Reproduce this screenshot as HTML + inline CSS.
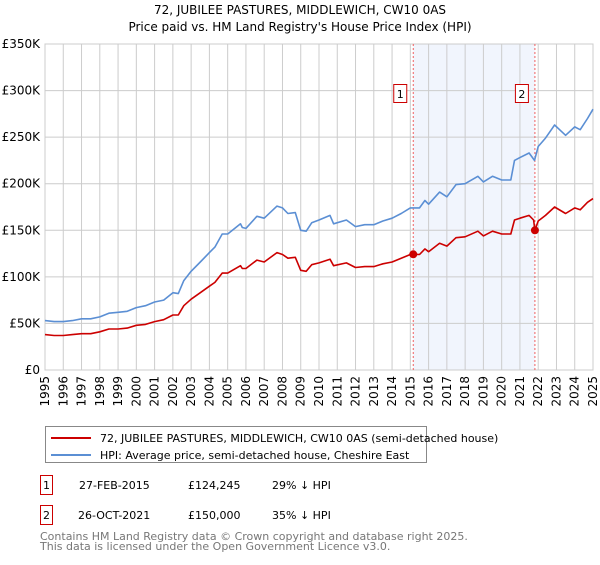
<!DOCTYPE html>
<html><head><meta charset="utf-8"><style>
body{margin:0;background:#fff;font-family:"Liberation Sans","DejaVu Sans",sans-serif;}
svg text{font-family:"DejaVu Sans","Liberation Sans",sans-serif;}
</style></head><body>
<svg id="c" width="600" height="560" xmlns="http://www.w3.org/2000/svg">
<text x="300" y="14" text-anchor="middle" font-size="12">72, JUBILEE PASTURES, MIDDLEWICH, CW10 0AS</text>
<text x="300" y="31" text-anchor="middle" font-size="12">Price paid vs. HM Land Registry's House Price Index (HPI)</text>
<g id="grid"></g><g id="marks"></g>
<g>
<rect x="45.5" y="426.5" width="381" height="36" fill="#fff" stroke="#888"/>
<line x1="51" y1="438" x2="91" y2="438" stroke="#cc0000" stroke-width="2"/>
<text x="100" y="442" font-size="11">72, JUBILEE PASTURES, MIDDLEWICH, CW10 0AS (semi-detached house)</text>
<line x1="51" y1="455" x2="91" y2="455" stroke="#5b8fd4" stroke-width="2"/>
<text x="100" y="459" font-size="11">HPI: Average price, semi-detached house, Cheshire East</text>
</g>
<g font-size="11">
<rect x="40.5" y="475.5" width="12" height="19" fill="none" stroke="#cc0000"/><text x="46.5" y="489" text-anchor="middle">1</text>
<text x="79" y="489">27-FEB-2015</text><text x="188" y="489">£124,245</text><text x="272" y="489">29% ↓ HPI</text>
<rect x="40.5" y="505.5" width="12" height="19" fill="none" stroke="#cc0000"/><text x="46.5" y="519" text-anchor="middle">2</text>
<text x="78" y="519">26-OCT-2021</text><text x="188" y="519">£150,000</text><text x="272" y="519">35% ↓ HPI</text>
</g>
<text x="40" y="540" font-size="11" fill="#777">Contains HM Land Registry data © Crown copyright and database right 2025.</text>
<text x="40" y="550" font-size="11" fill="#777">This data is licensed under the Open Government Licence v3.0.</text>
</svg>
<script>
const yTicks=[0,50000,100000,150000,200000,250000,300000,350000];
const yTickLabels=["£0","£50K","£100K","£150K","£200K","£250K","£300K","£350K"];
const xTicks=[1995,1996,1997,1998,1999,2000,2001,2002,2003,2004,2005,2006,2007,2008,2009,2010,2011,2012,2013,2014,2015,2016,2017,2018,2019,2020,2021,2022,2023,2024,2025];
const hpiYears=[1995,1995.5,1996,1996.5,1997,1997.5,1998,1998.5,1999,1999.5,2000,2000.5,2001,2001.5,2002,2002.3,2002.6,2003,2003.5,2004,2004.3,2004.7,2005,2005.7,2005.8,2006,2006.6,2007,2007.7,2008,2008.3,2008.7,2009,2009.3,2009.6,2010,2010.6,2010.8,2011.5,2012,2012.5,2013,2013.5,2014,2014.5,2015,2015.5,2015.8,2016,2016.6,2017,2017.5,2018,2018.7,2019,2019.5,2020,2020.5,2020.7,2021,2021.5,2021.8,2022,2022.4,2022.9,2023.5,2024,2024.3,2024.7,2025];
const hpiValues=[53,52,52,53,55,55,57,61,62,63,67,69,73,75,83,82,96,106,116,126,132,146,146,157,153,152,165,163,176,174,168,169,150,149,158,161,166,157,161,154,156,156,160,163,168,174,174,182,178,191,186,199,200,208,202,208,204,204,225,228,233,225,240,249,263,252,261,258,270,280];
const priceYears=[1995,1995.5,1996,1996.5,1997,1997.5,1998,1998.5,1999,1999.5,2000,2000.5,2001,2001.5,2002,2002.3,2002.6,2003,2003.5,2004,2004.3,2004.7,2005,2005.7,2005.8,2006,2006.6,2007,2007.7,2008,2008.3,2008.7,2009,2009.3,2009.6,2010,2010.6,2010.8,2011.5,2012,2012.5,2013,2013.5,2014,2014.5,2015,2015.16,2015.5,2015.8,2016,2016.6,2017,2017.5,2018,2018.7,2019,2019.5,2020,2020.5,2020.7,2021,2021.5,2021.75,2021.82,2022,2022.4,2022.9,2023.5,2024,2024.3,2024.7,2025];
const priceValues=[38,37,37,38,39,39,41,44,44,45,48,49,52,54,59,59,69,76,83,90,94,104,104,112,109,109,118,116,126,124,120,121,107,106,113,115,119,112,115,110,111,111,114,116,120,124,124.2,124,130,127,136,133,142,143,149,144,149,146,146,161,163,166,161,150,160,166,175,168,174,172,180,184];
const saleYears=[2015.16,2021.82];
const saleValues=[124245,150000];
const saleLabels=["1","2"];

const NS="http://www.w3.org/2000/svg";
const L=45,R=593,T=44,B=370;
const xs=y=>L+(y-1995)/30*(R-L);
const ys=v=>B-v/350000*(B-T);
function mk(tag,attrs,parent){const e=document.createElementNS(NS,tag);for(const k in attrs)e.setAttribute(k,attrs[k]);parent.appendChild(e);return e;}
const grid=document.getElementById('grid'),marks=document.getElementById('marks');
mk('rect',{x:xs(saleYears[0]),y:T,width:xs(saleYears[1])-xs(saleYears[0]),height:B-T,fill:'#eef3fd',opacity:0.8},grid);
yTicks.forEach((v,i)=>{
 const l=mk('line',{x1:L,x2:R,y1:ys(v),y2:ys(v),stroke:'#ccc'},grid);
 
 
 const t=mk('text',{x:L-5,y:ys(v)+4,'text-anchor':'end','font-size':12},grid);t.textContent=yTickLabels[i];
 
 
});
xTicks.forEach(y=>{
 const l=mk('line',{x1:xs(y),x2:xs(y),y1:T,y2:B,stroke:'#ccc'},grid);
 
 
 const t=mk('text',{x:0,y:0,'text-anchor':'end','font-size':12,transform:`translate(${xs(y)+4},${B+6}) rotate(-90)`},grid);t.textContent=y;
 
 
});
mk('rect',{x:L,y:T,width:R-L,height:B-T,fill:'none',stroke:'#ccc'},grid);
saleYears.forEach((y,i)=>{
 const l=mk('line',{x1:xs(y),x2:xs(y),y1:T,y2:B,stroke:'#f06060','stroke-dasharray':'2,2'},marks);
 
 
 const g=mk('g',{},marks);
 
 
 mk('rect',{x:xs(y)-19.5,y:84.5,width:13,height:18,fill:'#fff',stroke:'#cc0000'},g);
 const t=mk('text',{x:xs(y)-13,y:98,'text-anchor':'middle','font-size':11},g);t.textContent=saleLabels[i];
});
function line(xa,va,col,name){
 const d=xa.map((y,i)=>(i?'L':'M')+xs(y).toFixed(1)+','+ys(va[i]*1000).toFixed(1)).join('');
 const p=mk('path',{d:d,fill:'none',stroke:col,'stroke-width':1.6,'stroke-linejoin':'round'},marks);
 
 
}
line(hpiYears,hpiValues,'#5b8fd4','hpi-line');
line(priceYears,priceValues,'#cc0000','price-paid-line');
saleYears.forEach((y,i)=>{
 const c=mk('circle',{cx:xs(y),cy:ys(saleValues[i]),r:4,fill:'#cc0000'},marks);
 
 
});
</script>
</body></html>
